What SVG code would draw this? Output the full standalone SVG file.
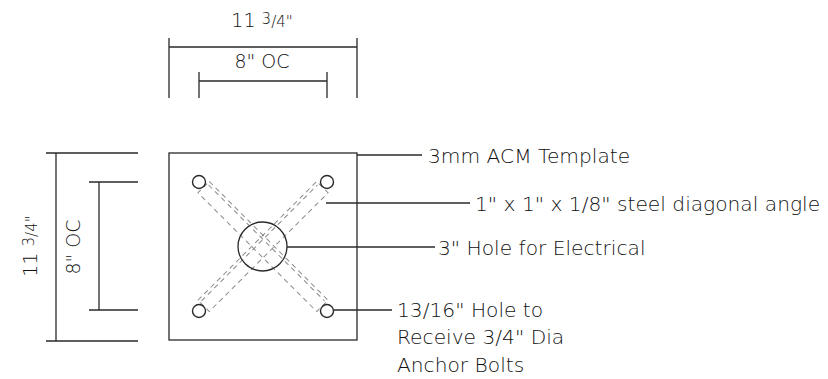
<svg xmlns="http://www.w3.org/2000/svg" width="828" height="379" viewBox="0 0 828 379">
<style>
.ln{stroke:#2a2a2a;stroke-width:1.3;fill:none}
.hole{stroke:#2a2a2a;stroke-width:1.4;fill:#fff}
.dash{stroke:#8a8a8a;stroke-width:1;fill:none;stroke-dasharray:5 4}
.t{font-family:"DejaVu Sans","Liberation Sans",sans-serif;font-weight:200;fill:#111}
.lab{font-size:20.2px}
.dim{font-size:19px}
.frac{font-size:15px}
</style>
<rect width="828" height="379" fill="#fff"/>
<g id="top-dimension">
  <path class="ln" d="M169 38V98M357 38V98M169 47H357"/>
  <path class="ln" d="M199 72V98M327 72V98M199 81H327"/>
  <text class="t dim" x="262" y="27" text-anchor="middle">11 <tspan class="frac" dy="-3">3</tspan><tspan class="frac" dy="3">/4"</tspan></text>
  <text class="t dim" x="262" y="68" text-anchor="middle">8" OC</text>
</g>
<g id="left-dimension">
  <path class="ln" d="M46 153H138M46 341H138M56 153V341"/>
  <path class="ln" d="M89 182H138M89 310H138M99 182V310"/>
  <text class="t dim" transform="translate(37,246) rotate(-90)" text-anchor="middle">11 <tspan class="frac" dy="-3">3</tspan><tspan class="frac" dy="3">/4"</tspan></text>
  <text class="t dim" transform="translate(80,247) rotate(-90)" text-anchor="middle">8" OC</text>
</g>
<g id="template">
  <rect class="ln" x="169" y="153" width="188" height="187"/>
</g>
<g id="angle-a" transform="rotate(45 263 246.5)">
  <rect class="dash" x="179" y="238.5" width="168" height="16"/>
  <line class="dash" x1="181" y1="241.5" x2="345" y2="241.5"/>
</g>
<g id="angle-b" transform="rotate(-45 263 246.5)">
  <rect class="dash" x="179" y="238.5" width="168" height="16"/>
  <line class="dash" x1="181" y1="241.5" x2="345" y2="241.5"/>
</g>
<g id="electrical-hole">
  <circle class="ln" cx="262.5" cy="246.5" r="24.5"/>
</g>
<g id="anchor-holes">
  <circle class="hole" cx="199" cy="182" r="6.5"/>
  <circle class="hole" cx="327" cy="182" r="6.5"/>
  <circle class="hole" cx="199" cy="311" r="6.5"/>
  <circle class="hole" cx="327" cy="311" r="6.5"/>
</g>
<g id="connectors">
  <path class="ln" d="M357 155H422"/>
  <path class="ln" d="M326 203H470"/>
  <path class="ln" d="M287 247H435"/>
  <path class="ln" d="M333.5 310H392"/>
</g>
<g id="labels">
  <text class="t lab" x="428" y="163">3mm ACM Template</text>
  <text class="t lab" x="475" y="211">1" x 1" x 1/8" steel diagonal angle</text>
  <text class="t lab" x="438" y="255">3" Hole for Electrical</text>
  <text class="t lab" x="397" y="317">13/16" Hole to</text>
  <text class="t lab" x="397" y="344">Receive 3/4" Dia</text>
  <text class="t lab" x="397" y="372">Anchor Bolts</text>
</g>
</svg>
